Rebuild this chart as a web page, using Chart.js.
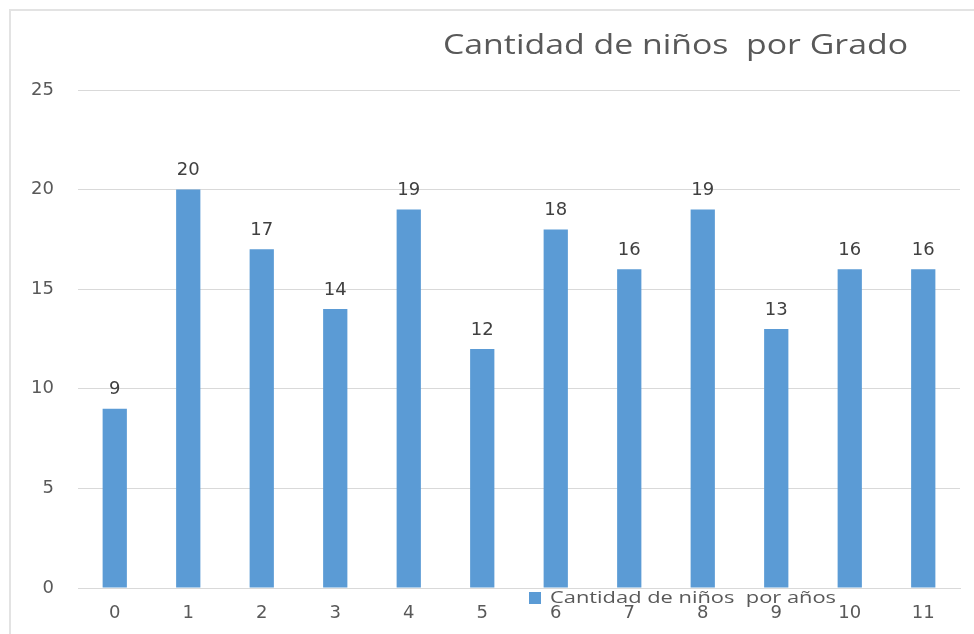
<!DOCTYPE html>
<html>
<head>
<meta charset="utf-8">
<script src="https://cdn.jsdelivr.net/npm/chart.js@4"></script>
<style>
  html, body { margin: 0; padding: 0; background: #fff; }
</style>
</head>
<body>
<canvas id="grafico" width="974" height="634"></canvas>
<script>
// datos del grafico
const grados = ['0', '1', '2', '3', '4', '5', '6', '7', '8', '9', '10', '11'];
const ninos = [9, 20, 17, 14, 19, 12, 18, 16, 19, 13, 16, 16];
const titulo = 'Cantidad de niños  por Grado';
const serie = 'Cantidad de niños  por años';

const azul = '#5B9BD5';
const gris = '#595959';

// marco gris alrededor del grafico
const marco = {
  id: 'marco',
  beforeDraw(chart) {
    const c = chart.ctx;
    c.save();
    c.strokeStyle = '#e3e3e3';
    c.lineWidth = 2;
    c.beginPath();
    c.moveTo(10, 634);
    c.lineTo(10, 10);
    c.lineTo(974, 10);
    c.stroke();
    c.restore();
  }
};

// titulo y leyenda dibujados a mano (la leyenda se monta sobre las etiquetas)
const textos = {
  id: 'textos',
  afterDraw(chart) {
    const c = chart.ctx;
    c.save();
    c.fillStyle = gris;
    c.font = '27px "Open Sans"';
    c.textBaseline = 'middle';
    c.textAlign = 'left';
    let w = c.measureText(titulo).width;
    c.translate(443, 46);
    c.scale(465 / w, 1);
    c.fillText(titulo, 0, 0);
    c.restore();

    c.save();
    c.fillStyle = azul;
    c.fillRect(529, 592, 12, 12);
    c.fillStyle = gris;
    c.font = '17px "Open Sans"';
    c.textBaseline = 'middle';
    w = c.measureText(serie).width;
    c.translate(550, 598);
    c.scale(286 / w, 1);
    c.fillText(serie, 0, 0);
    c.restore();
  }
};

// valores encima de cada barra
const valores = {
  id: 'valores',
  afterDatasetsDraw(chart) {
    const c = chart.ctx;
    const meta = chart.getDatasetMeta(0);
    c.save();
    c.fillStyle = '#404040';
    c.font = '18px "DejaVu Sans"';
    c.textAlign = 'center';
    c.textBaseline = 'bottom';
    meta.data.forEach((bar, i) => {
      c.fillText(String(ninos[i]), bar.x, bar.y - 10);
    });
    c.restore();
  }
};

new Chart(document.getElementById('grafico'), {
  type: 'bar',
  data: {
    labels: grados,
    datasets: [{
      label: serie,
      data: ninos,
      backgroundColor: azul,
      borderWidth: 0,
      categoryPercentage: 1,
      barPercentage: 0.33
    }]
  },
  options: {
    responsive: false,
    animation: false,
    layout: { padding: { left: 12, right: 14, top: 90, bottom: 6 } },
    plugins: {
      legend: { display: false },
      title: { display: false },
      tooltip: { enabled: false }
    },
    scales: {
      x: {
        grid: { display: false, drawTicks: false },
        border: { color: '#d9d9d9', width: 1 },
        ticks: { color: gris, font: { family: 'DejaVu Sans', size: 18 }, padding: 15, autoSkip: false, maxRotation: 0 },
        afterFit(s) { s.height = 40; }
      },
      y: {
        min: 0,
        max: 25,
        ticks: { stepSize: 5, color: gris, font: { family: 'DejaVu Sans', size: 18 }, padding: 24 },
        grid: { color: '#d9d9d9', drawTicks: false },
        border: { display: false },
        afterFit(s) { s.width = 66; }
      }
    }
  },
  plugins: [marco, textos, valores]
});
</script>
</body>
</html>
